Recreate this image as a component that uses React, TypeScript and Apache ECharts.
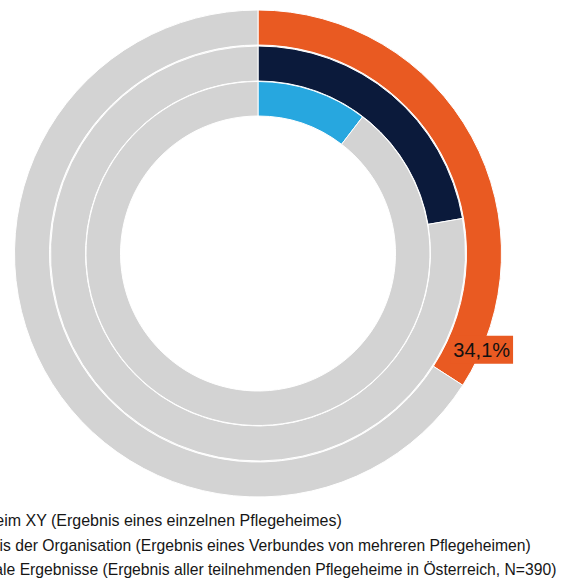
import React, { useEffect, useRef } from "react";
import * as echarts from "echarts";

const categories = [
  "Pflegeheim XY (Ergebnis eines einzelnen Pflegeheimes)",
  "Ergebnis der Organisation (Ergebnis eines Verbundes von mehreren Pflegeheimen)",
  "Nationale Ergebnisse (Ergebnis aller teilnehmenden Pflegeheime in Österreich, N=390)",
];
const values = [34.1, 22.3, 10.4];
const colors = ["#E95A22", "#0B1A3B", "#27A7DF"];
const restColor = "#D3D3D3";
const labelledIndex = 0;

const CENTER: [number, number] = [258, 253.5];
const RADII: [number, number][] = [
  [208.5, 243.5],
  [172.5, 207.5],
  [137.5, 172],
];
const LEGEND_LEFT = [-79, -71, -71];
const LEGEND_CENTER_Y = [519, 544, 568];
const LEGEND_FONT = [16, 15.7, 15.7];

export default function App() {
  const ref = useRef<HTMLDivElement>(null);
  useEffect(() => {
    if (!ref.current) return;
    const chart = echarts.init(ref.current, undefined, { renderer: "svg" });
    const series = values.map((v, i) => ({
      type: "pie",
      name: categories[i],
      center: CENTER,
      radius: RADII[i],
      startAngle: 90,
      clockwise: true,
      silent: true,
      labelLine: { show: false },
      itemStyle: { borderColor: "#ffffff", borderWidth: 1 },
      label: { show: false },
      labelLayout:
        i === labelledIndex
          ? (params: any) => {
              if (params.dataIndex !== 0) return {};
              const endDeg = (values[i] / 100) * 360;
              const a = ((endDeg - 9.5) * Math.PI) / 180;
              const r = RADII[i][1];
              return {
                x: CENTER[0] + r * Math.sin(a),
                y: CENTER[1] - r * Math.cos(a),
                align: "center",
                verticalAlign: "middle",
              };
            }
          : undefined,
      data: [
        {
          name: categories[i],
          value: v,
          itemStyle: { color: colors[i] },
          label:
            i === labelledIndex
              ? {
                  show: true,
                  position: "inside",
                  formatter: (p: any) => p.value.toFixed(1).replace(".", ",") + "%",
                  color: "#111111",
                  fontSize: 20,
                  fontFamily: "Liberation Sans, Arial, sans-serif",
                  backgroundColor: colors[i],
                  padding: [5, 3, 3, 3],
                }
              : { show: false },
        },
        {
          name: "Rest " + (i + 1),
          value: +(100 - v).toFixed(1),
          itemStyle: { color: restColor },
          label: { show: false },
        },
      ],
    }));
    const legends = categories.map((c, i) => ({
      data: [c],
      orient: "vertical",
      left: LEGEND_LEFT[i],
      top: LEGEND_CENTER_Y[i] - 7,
      padding: 0,
      itemWidth: 14,
      itemHeight: 14,
      selectedMode: false,
      textStyle: {
        fontSize: LEGEND_FONT[i],
        color: "#161616",
        fontFamily: "Liberation Sans, Arial, sans-serif",
      },
    }));
    chart.setOption({
      animation: false,
      backgroundColor: "#ffffff",
      legend: legends,
      series,
    });
    return () => chart.dispose();
  }, []);
  return (
    <div
      ref={ref}
      style={{ position: "absolute", left: 0, top: 0, width: 571, height: 581 }}
    />
  );
}
